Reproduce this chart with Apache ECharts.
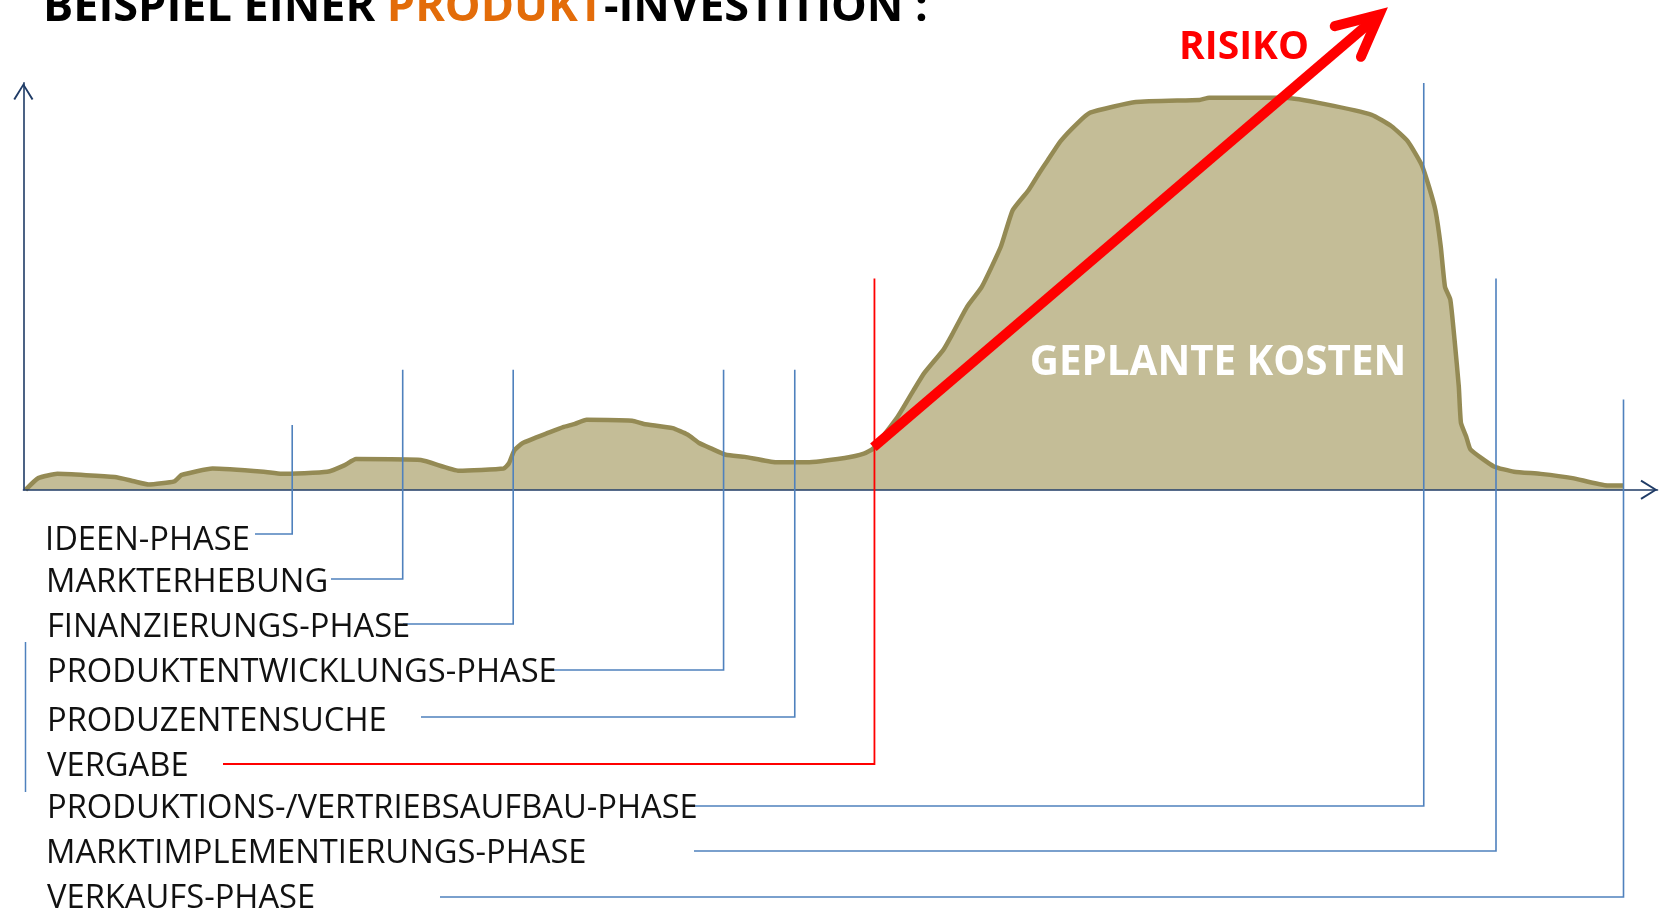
<!DOCTYPE html>
<html>
<head>
<meta charset="utf-8">
<script src="https://cdn.jsdelivr.net/npm/echarts@6/dist/echarts.min.js"></script>
<style>
  html, body { margin: 0; padding: 0; background: #fff; }
  #main { width: 1666px; height: 911px; }
</style>
</head>
<body>
<div id="main"></div>
<script>
// Kostenverlauf (x = Zeit, y = Kosten)
const costX = [2, 14, 32, 86, 104, 118, 142, 149, 178, 226, 243, 286, 302, 313, 374, 410, 452, 457, 462, 470,
  495, 508, 519, 530, 573, 584, 611, 625, 636, 647, 661, 679, 708, 737, 773, 791, 800, 823, 838, 848,
  866, 874, 888, 902, 920, 931, 946, 956, 964, 976, 992, 1004, 1047, 1107, 1116, 1188, 1225, 1269, 1288, 1303,
  1316, 1323, 1329, 1334, 1338, 1343, 1347, 1351, 1353, 1358, 1362, 1384, 1403, 1428, 1458, 1491, 1506];
const costY = [0, 11, 15, 12, 8, 5, 8, 14, 20, 17, 15, 17, 23, 29, 28, 18, 20, 25, 37, 44,
  54, 59, 62, 66, 65, 62, 58, 52, 44, 39, 33, 31, 26, 26, 30, 34, 39, 69, 94, 110,
  132, 146, 172, 191, 229, 263, 282, 298, 310, 328, 345, 355, 365, 367, 369, 369, 363, 353, 342, 328,
  306, 285, 263, 229, 191, 179, 141, 97, 63, 50, 38, 22, 17, 15, 11, 4, 4];

// Phasen: Ende der Phase auf der Zeitachse und Höhe der Markierungslinie
const phases = ['IDEEN-PHASE', 'MARKTERHEBUNG', 'FINANZIERUNGS-PHASE', 'PRODUKTENTWICKLUNGS-PHASE',
  'PRODUZENTENSUCHE', 'VERGABE', 'PRODUKTIONS-/VERTRIEBSAUFBAU-PHASE', 'MARKTIMPLEMENTIERUNGS-PHASE', 'VERKAUFS-PHASE'];
const phaseX = [253, 357, 461, 659, 726, 801, 1318, 1386, 1506];
const phaseTop = [61, 113, 113, 113, 113, 199, 383, 199, 85];

// Risikopfeil: Start (x, y) und Spitze (x, y)
const riskArrow = [[800, 40, 1284, 454]];

// Layout der Beschriftungen (Pixel)
const labelLeft = [45, 46, 47, 47, 47, 47, 47, 46, 47];
const textY = [539, 581, 626, 671, 720, 765, 807, 852, 897];
const rowY = [534, 579, 624, 670, 717, 764, 806, 851, 897];
const lineStart = [255, 331, 403, 548, 421, 223, 694, 694, 440];
const vergabeIndex = 5;

const FONT = '"Open Sans", "Noto Sans", sans-serif';
const BLUE = '#4F81BD';
const AXIS = '#1F3B66';
const chevron = 'path://M10 0L20 16L18.3 17L10 3.4L1.7 17L0 16Z';

var myChart = echarts.init(document.getElementById('main'));

var option = {
  animation: false,
  grid: { left: 23.4, right: 8.5, top: 82.9, bottom: 421.2 },
  xAxis: {
    type: 'value', min: 0, max: 1538, z: 3,
    axisLine: { show: true, onZero: false, lineStyle: { color: AXIS, width: 1.6 },
      symbol: ['none', chevron], symbolSize: [20, 17], symbolOffset: [0, -8.5] },
    axisTick: { show: false }, axisLabel: { show: false }, splitLine: { show: false }
  },
  yAxis: {
    type: 'value', min: 0, max: 383, z: 3,
    axisLine: { show: true, lineStyle: { color: AXIS, width: 1.6 },
      symbol: ['none', chevron], symbolSize: [20, 17], symbolOffset: [0, -8.5] },
    axisTick: { show: false }, axisLabel: { show: false }, splitLine: { show: false }
  },
  series: [
    {
      // geplante Kosten
      type: 'line',
      z: 2,
      symbol: 'none',
      smooth: 0.15,
      data: costX.map(function (x, i) { return [x, costY[i]]; }),
      lineStyle: { color: '#948A54', width: 4.5, join: 'round' },
      areaStyle: { color: '#C4BD97', opacity: 1 }
    },
    {
      // Phasen-Markierungen mit Beschriftung
      type: 'custom',
      z: 4,
      clip: false,
      silent: true,
      encode: { x: 0, y: 1 },
      data: phases.map(function (p, i) { return [phaseX[i], phaseTop[i]]; }),
      renderItem: function (params, api) {
        var i = params.dataIndex;
        var top = api.coord([api.value(0), api.value(1)]);
        var y = rowY[i];
        var color = i === vergabeIndex ? '#FF0000' : BLUE;
        return {
          type: 'group',
          children: [
            {
              type: 'polyline',
              shape: { points: [[top[0], top[1]], [top[0], y], [lineStart[i], y]] },
              style: { stroke: color, lineWidth: i === vergabeIndex ? 1.8 : 1.6, fill: 'none' }
            },
            {
              type: 'text',
              x: labelLeft[i], y: textY[i] + 2,
              style: { text: phases[i], fontFamily: FONT, fontSize: 32.7, fill: '#111',
                verticalAlign: 'middle', align: 'left' }
            }
          ]
        };
      }
    },
    {
      // Risiko-Pfeil
      type: 'custom',
      z: 6,
      clip: false,
      silent: true,
      data: riskArrow,
      renderItem: function (params, api) {
        var s = api.coord([api.value(0), api.value(1)]);
        var t = api.coord([api.value(2), api.value(3)]);
        var ang = Math.atan2(s[1] - t[1], s[0] - t[0]);
        var v = [t[0] + 11 * Math.cos(ang), t[1] + 11 * Math.sin(ang)];
        var spread = 26 * Math.PI / 180, len = 46;
        var a1 = [v[0] + len * Math.cos(ang + spread), v[1] + len * Math.sin(ang + spread)];
        var a2 = [v[0] + len * Math.cos(ang - spread), v[1] + len * Math.sin(ang - spread)];
        return {
          type: 'group',
          children: [
            { type: 'line', shape: { x1: s[0], y1: s[1], x2: v[0], y2: v[1] },
              style: { stroke: '#FF0000', lineWidth: 10, lineCap: 'butt' } },
            { type: 'polyline', shape: { points: [a1, v, a2] },
              style: { stroke: '#FF0000', lineWidth: 10, lineCap: 'round', lineJoin: 'miter', fill: 'none' } }
          ]
        };
      }
    }
  ],
  graphic: [
    {
      type: 'text', x: 43, y: 8, z: 10,
      style: {
        text: '{a|BEISPIEL EINER }{b|PRODUKT}{a|-INVESTITION :}',
        verticalAlign: 'middle',
        rich: {
          a: { fontFamily: FONT, fontWeight: 'bold', fontSize: 45, fill: '#000' },
          b: { fontFamily: FONT, fontWeight: 'bold', fontSize: 45, fill: '#E36C09' }
        }
      }
    },
    {
      type: 'text', x: 1244, y: 48, z: 10,
      style: { text: 'RISIKO', fontFamily: FONT, fontWeight: 'bold', fontSize: 39, fill: '#FF0000',
        align: 'center', verticalAlign: 'middle' }
    },
    {
      type: 'text', x: 1218, y: 364, z: 10,
      style: { text: 'GEPLANTE KOSTEN', fontFamily: FONT, fontWeight: 'bold', fontSize: 40.3, fill: '#FFFFFF',
        align: 'center', verticalAlign: 'middle' }
    },
    {
      type: 'line', z: 10,
      shape: { x1: 25.5, y1: 642, x2: 25.5, y2: 792 },
      style: { stroke: BLUE, lineWidth: 1.5 }
    }
  ]
};

myChart.setOption(option);
</script>
</body>
</html>
